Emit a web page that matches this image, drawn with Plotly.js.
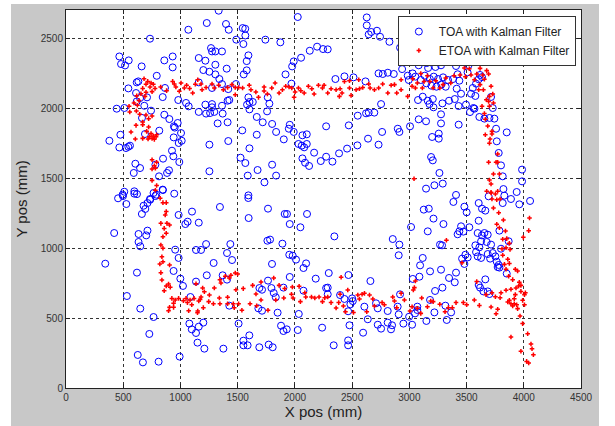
<!DOCTYPE html>
<html>
<head>
<meta charset="utf-8">
<script src="https://cdn.plot.ly/plotly-3.0.1.min.js"></script>
<style>
html,body{margin:0;padding:0;background:#ffffff;}
#wrap{position:absolute;left:11px;top:4px;width:588px;height:422px;background:#c8c8c8;}
#chart{width:588px;height:422px;}
</style>
</head>
<body>
<div id="wrap"><div id="chart"></div></div>
<script>
// TOA with Kalman Filter (blue open circles)
const toaX = [
1069,734,466,548,481,516,661,859,932,932,793,632,618,545,612,708,845,865,647,618,684,981,1049,1072,443,510,743,859,664,903,976,943,950,815,1005,690,475,941,379,1011,985,466,524,559,545,926,938,848,990,606,781,647,592,883,900,813,845,597,495,620,946,781,734,455,
1334,1230,1398,1422,1544,1566,1567,1488,1550,1742,1873,2025,1267,1276,1305,1363,1160,1218,1305,1404,1594,1579,1579,1553,1200,1253,1305,1340,1363,1485,1418,1412,1427,1276,1160,1363,1276,1218,1276,1224,1160,1259,1296,1369,1325,1412,1594,1603,1582,1632,1603,1667,1719,1757,1777,1763,1801,1836,1903,1918,1540,1667,1418,1253,1603,1525,1567,1674,1801,1836,1734,1588,1253,1594,1955,1947,1990,1976,1990,2054,2130,2194,2246,1970,2066,2104,2031,2060,2104,2081,2168,2066,2089,2124,2226,
2628,2628,2667,2717,2645,2744,2826,2919,2287,2354,2433,2512,2617,2731,2768,2812,2864,2937,2986,2995,3029,3053,3094,3082,3117,3152,3199,3228,3263,3292,3315,3350,3277,3164,3100,3135,3179,3213,3251,3295,3338,3382,3149,3193,3237,3280,3318,3076,3117,3161,3205,3176,3211,3289,3347,3397,2753,2645,2694,2622,2549,2471,2273,2762,2899,2913,3006,3082,3146,3277,3277,3199,3257,3257,3190,3205,3263,3292,3219,3146,2639,2546,2731,2456,2386,2328,2273,3400,
3408,3422,3437,3414,3452,3431,3431,3518,3509,3618,3635,3606,3583,3554,3539,3577,3495,3560,3530,3569,3714,3729,3743,3612,3656,3700,3758,3851,3764,3781,3801,3816,3822,3938,3985,3985,
509,498,527,597,678,693,663,736,765,789,847,712,421,634,712,701,634,649,984,1063,1043,1101,1160,954,984,343,620,940,999,1022,532,1087,649,765,1078,1099,1136,1149,728,627,672,809,993,
1345,1596,1593,1765,1911,1931,2106,1955,2048,1760,1783,1891,1224,1436,1180,1136,1407,1451,1290,1800,1951,1981,2010,2098,2075,1369,1407,1230,1136,1955,2182,1765,1795,1815,1833,1690,1713,1900,2075,1427,1681,1713,1849,2034,1200,1160,1508,1879,1900,1929,2025,1602,1550,1550,1587,1689,1771,1806,1209,1375,2238,2273,
3126,3170,3211,3298,3385,3015,3161,2345,2855,2913,3268,3286,2907,3117,3094,3181,3277,2296,3088,3030,3347,3397,2468,2660,3289,3225,2287,2287,2395,2433,2500,2506,2485,2709,2724,2607,2919,2898,2811,2907,3070,3070,3050,2998,3181,3219,3315,3365,3327,3149,2465,2637,2477,2724,2753,2811,2849,2840,2948,3024,2596,2465,2465,2339,
3408,3481,3501,3606,3635,3664,3693,3816,3830,3888,3961,4055,3606,3524,3452,3437,3472,3422,3597,3635,3656,3685,3676,3627,3612,3577,3714,3787,3801,3868,3583,3597,3490,3461,3510,3481,3627,3685,3729,3752,3706,3764,3781,3772,3787,3851,3408,3664,3606,3618,3647,3685,3700
];
const toaY = [
2559,2495,2368,2340,2314,2304,2297,2340,2368,2290,2230,2190,2183,2140,2107,2076,2078,2143,2071,2047,2016,2057,2036,2012,1995,2000,1981,1952,1929,1921,1893,1869,1860,1838,1821,1814,1809,1790,1766,1766,1750,1718,1714,1731,1723,1695,1655,1638,1614,1602,1595,1571,1536,1536,1555,1512,1417,1405,1381,1385,1388,1371,1350,1355,
2695,2607,2600,2559,2571,2566,2518,2488,2457,2488,2469,2650,2428,2404,2404,2404,2357,2338,2309,2281,2376,2335,2269,2240,2271,2259,2240,2207,2171,2171,2135,2052,2057,2143,2183,2016,2028,2024,2005,1960,1972,1964,1972,1960,1890,1898,2076,2043,2024,2043,1990,1936,1898,1976,2031,2076,1886,1829,1776,2240,1840,1809,1764,1738,1712,1645,1607,1557,1595,1517,1469,1517,1548,1376,1880,1852,1829,2297,2333,2359,2409,2438,2421,2174,1805,1812,1743,1731,1743,1719,1681,1640,1609,1586,1621,
2647,2590,2543,2552,2526,2509,2473,2431,2419,2207,2226,2219,2190,2247,2243,2252,2243,2278,2231,2200,2247,2224,2364,2305,2328,2321,2328,2293,2340,2340,2345,2345,2305,2286,2200,2231,2207,2224,2207,2219,2200,2207,2176,2159,2152,2167,2152,2057,2081,2052,2064,2028,2005,2033,2052,2064,2028,1967,1967,1962,1945,1876,1869,1829,1852,1829,1869,1919,1905,1955,1890,1793,1817,1781,1650,1626,1536,1460,1448,1424,1781,1733,1738,1710,1676,1617,1652,2428,
2300,2241,2195,2138,2102,2014,1881,2307,2255,2236,2221,2205,2174,2143,2102,2086,2024,2000,1971,1995,2079,2000,1924,1936,1924,1929,1852,1826,1762,1679,1590,1512,1421,1400,1560,1476,
1402,1371,1314,1388,1302,1279,1243,1345,1393,1381,1414,1321,1107,1100,1124,1090,1043,1012,1236,1188,1171,1260,1181,988,929,888,824,836,781,729,657,650,567,507,460,419,393,324,386,236,183,188,224,
1293,1214,1357,1281,1243,1243,1243,1171,1148,1052,1060,1031,1028,1028,986,986,964,914,893,886,952,945,917,890,857,805,774,805,760,793,781,767,714,679,648,714,702,717,695,588,569,552,538,529,467,438,460,445,407,419,414,376,338,305,305,291,310,291,281,281,431,714,
1274,1281,1210,1171,1329,1150,1119,1083,1064,1024,1024,1019,948,929,876,833,845,821,795,779,786,755,807,764,717,693,717,669,664,636,640,621,598,605,569,581,669,581,550,526,581,557,533,509,629,540,588,540,486,479,548,491,448,452,424,467,448,419,460,452,395,340,305,305,
1379,1295,1255,1321,1281,1267,1369,1321,1374,1350,1312,1336,1195,1148,1155,1119,1117,1098,1107,1090,1107,1095,1043,1048,1005,1019,1024,1124,995,1048,971,940,952,924,933,886,929,957,964,940,924,902,879,864,860,817,824,776,736,717,690,690,671
];
// ETOA with Kalman Filter (red points)
const etoaX = [
682,714,743,699,763,734,670,778,827,879,752,699,655,618,690,638,594,551,624,557,615,644,699,752,722,670,612,568,670,722,705,743,763,728,787,752,772,717,670,606,792,752,792,772,752,781,752,792,781,932,946,1005,1034,1054,1107,960,990,1080,1130,
1151,1180,1224,1189,1276,1296,1334,1375,1412,1450,1479,1508,1479,1543,1601,1616,1659,1682,1731,1731,1760,1798,1827,1862,1891,1920,1949,1973,1993,2002,2031,2052,2081,2118,2148,2168,2206,2241,2255,
2287,2316,2360,2395,2412,2389,2433,2477,2477,2491,2535,2558,2564,2593,2645,2657,2695,2732,2767,2812,2841,2870,2890,2928,2928,2986,3024,3053,3030,3070,3100,3129,3114,3158,3179,3208,3231,3266,3295,3318,3362,3391,3041,
3509,3577,3597,3618,3589,3641,3676,3693,3656,3490,3481,3524,3539,3490,3443,3569,3618,3606,3647,3714,3729,3700,3673,3693,3700,3735,3635,3656,3664,3685,3664,3722,3705,3722,3700,3772,3758,3693,3735,3700,3714,3752,3714,3787,3772,
823,847,876,876,867,829,882,905,858,876,847,829,847,838,847,820,905,829,838,876,911,896,858,925,954,984,940,905,940,896,1026,1049,1061,1084,1099,1072,1149,1119,1172,
1136,1194,1209,1180,1160,1200,1151,1253,1247,1288,1296,1345,1354,1340,1345,1392,1412,1412,1427,1441,1462,1479,1500,1485,1470,1508,1537,1549,1608,1631,1660,1666,1704,1704,1765,1815,1833,1862,1903,1911,1970,1978,1984,2037,2048,2095,2087,2145,2174,2211,2241,2261,
2404,2287,2316,2360,2383,2424,2395,2462,2442,2512,2550,2564,2587,2608,2652,2628,2681,2695,2762,2782,2855,2870,2890,2928,2957,3006,3024,3035,3053,3044,3070,3100,3108,3158,3187,3208,3266,3312,3341,3376,3324,
3676,3714,3772,3722,3764,3793,3735,3781,3822,3764,3787,3840,3816,3851,3874,3810,3845,3880,3816,3860,3831,3874,3845,3926,3946,3868,3903,3961,3975,3955,3932,3888,3845,3801,3975,4014,4006,3926,3917,3990,3874,3888,3917,3938,3903,3860,4006,3946,3793,3752,3722,3670,3714,3758,3772,3612,3568,3589,3460,3501,3472,3408,3967,3990,4034,3888,4063,4072,3975,4084,4025,4043,4050,4043,3996
];
const etoaY = [
2209,2190,2178,2169,2169,2150,2140,2140,2150,2124,2117,2112,2102,2088,2083,2054,2036,2012,2019,1972,1979,1955,1950,1943,1924,1900,1876,1829,1881,1864,1833,1817,1800,1795,1795,1783,1776,1778,1783,1778,1809,1631,1612,1588,1564,1569,1483,1447,1412,2190,2171,2178,2143,2162,2107,2150,2120,2140,2170,
2202,2171,2147,2131,2171,2143,2162,2131,2147,2167,2147,2147,2095,2143,2162,2131,2114,2076,2150,2121,2100,2143,2178,2107,2131,2155,2150,2143,2076,2114,2143,2124,2107,2155,2138,2100,2162,2143,2162,
2107,2138,2131,2138,2107,2083,2190,2143,2195,2090,2131,2202,2138,2147,2171,2143,2131,2143,2171,2107,2162,2167,2107,2202,2131,2083,2155,2143,2209,2178,2247,2190,2143,2231,2190,2143,2195,2143,2167,2214,2178,2231,1495,
2355,2362,2321,2283,2243,2236,2267,2243,2205,2317,2286,2281,2236,2224,2236,2202,2167,2131,2131,2155,2100,2083,2059,2047,2012,2036,2012,1960,1919,1872,1809,1833,1779,1814,1748,1671,1612,1612,1529,1486,1457,1386,1398,1529,1612,
1355,1324,1324,1260,1236,1176,1176,1164,1140,1105,1081,1021,998,938,902,886,879,824,771,729,719,743,695,640,629,640,605,576,576,552,624,640,610,629,595,552,538,640,633,
745,714,688,650,621,574,550,664,617,602,714,774,750,643,602,798,648,602,786,805,602,821,814,702,574,602,555,710,602,733,671,588,629,757,555,786,629,733,643,710,669,721,643,726,617,650,681,650,643,650,617,645,
791,650,610,571,610,586,669,700,545,540,664,636,669,676,664,545,636,586,610,595,650,621,574,676,629,550,581,700,764,717,569,533,643,581,621,617,598,545,574,574,1055,
1405,1393,1405,1350,1345,1350,1286,1252,1200,1169,1145,1121,1062,1067,1033,995,1002,990,948,919,883,890,848,848,836,798,774,755,733,729,714,705,698,681,690,681,667,667,638,626,626,602,602,595,586,614,595,567,645,652,681,667,578,531,562,590,629,760,895,595,610,610,514,460,388,364,314,281,262,238,190,179,1214,1124,1076
];

const FONT = '"Liberation Sans", Arial, Helvetica, sans-serif';

const traces = [
  {
    type: 'scatter', mode: 'markers', name: 'TOA with Kalman Filter',
    x: toaX, y: toaY,
    marker: {symbol: 'circle-open', size: 7, color: '#0000ff', line: {width: 1, color: '#0000ff'}}
  },
  {
    type: 'scatter', mode: 'markers', name: 'ETOA with Kalman Filter',
    x: etoaX, y: etoaY,
    marker: {symbol: 'cross', size: 3.8, color: '#ff0000', line: {width: 0}}
  }
];

const axisCommon = {
  showline: true, linecolor: '#222', linewidth: 1, mirror: 'ticks',
  ticks: 'inside', ticklen: 4, tickcolor: '#222',
  showgrid: true, gridcolor: '#333', griddash: 'dot', gridwidth: 1,
  zeroline: false,
  tickfont: {family: FONT, size: 10, color: '#333'}
};

const layout = {
  width: 588, height: 422,
  paper_bgcolor: '#c8c8c8', plot_bgcolor: '#ffffff',
  margin: {l: 55, r: 18, t: 6, b: 38},
  showlegend: true,
  xaxis: Object.assign({}, axisCommon, {
    range: [0, 4500], dtick: 500, tick0: 0,
    title: {text: 'X pos (mm)', font: {family: FONT, size: 15, color: '#222'}, standoff: 4}
  }),
  yaxis: Object.assign({}, axisCommon, {
    range: [0, 2700], dtick: 500, tick0: 0,
    title: {text: 'Y pos (mm)', font: {family: FONT, size: 15, color: '#222'}, standoff: 9}
  }),
  legend: {
    x: 0.99, xanchor: 'right', y: 0.984, yanchor: 'top',
    bgcolor: '#ffffff', bordercolor: '#333', borderwidth: 1,
    font: {family: FONT, size: 12, color: '#222'},
    itemsizing: 'trace', tracegroupgap: 0
  }
};

Plotly.newPlot('chart', traces, layout, {displayModeBar: false, staticPlot: true});
</script>
</body>
</html>
